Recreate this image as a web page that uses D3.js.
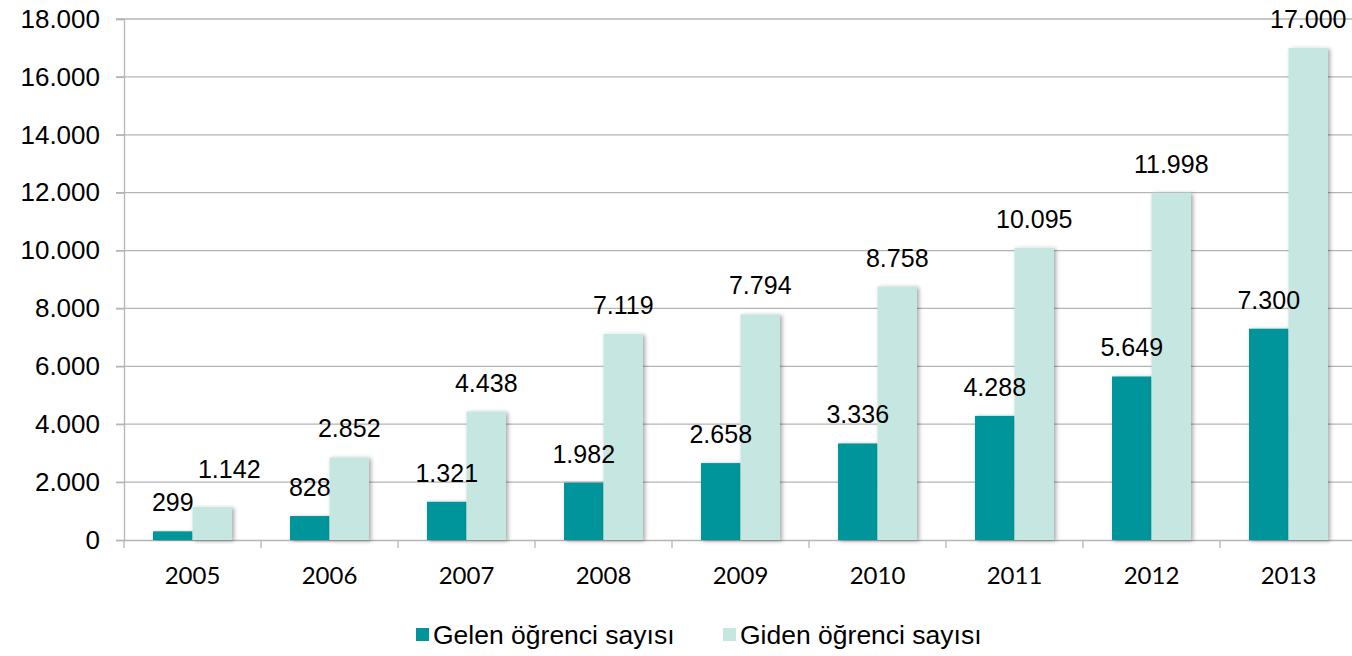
<!DOCTYPE html>
<html>
<head>
<meta charset="utf-8">
<script src="https://cdn.jsdelivr.net/npm/d3@7"></script>
<style>
  html, body { margin: 0; padding: 0; background: #fff; }
  svg { display: block; }
</style>
</head>
<body>
<div id="chart"></div>
<script>
const width = 1352;
const height = 656;

// Dati
const years = ["2005", "2006", "2007", "2008", "2009", "2010", "2011", "2012", "2013"];
const seriesNames = ["Gelen öğrenci sayısı", "Giden öğrenci sayısı"];
const gelen = [299, 828, 1321, 1982, 2658, 3336, 4288, 5649, 7300];
const giden = [1142, 2852, 4438, 7119, 7794, 8758, 10095, 11998, 17000];
const yTicks = [0, 2000, 4000, 6000, 8000, 10000, 12000, 14000, 16000, 18000];

const colors = ["#00959a", "#c6e6e1"];

// formato con punto per le migliaia
const fmt = d3.formatLocale({ thousands: ".", decimal: ",", grouping: [3], currency: ["", ""] }).format(",d");

const svg = d3.select("#chart").append("svg")
    .attr("width", width)
    .attr("height", height);

// ombra delle barre
const defs = svg.append("defs");
const shadow = defs.append("filter").attr("id", "shadow")
    .attr("x", "-20%").attr("y", "-5%").attr("width", "150%").attr("height", "115%");
shadow.append("feDropShadow")
    .attr("dx", 2).attr("dy", 1).attr("stdDeviation", 2)
    .attr("flood-color", "#000").attr("flood-opacity", 0.35);

const x0 = d3.scaleBand().domain(years).range([124, 124 + 9 * 137]).padding(0);
const x1 = d3.scaleBand().domain(seriesNames).range([0, 79]);
const y = d3.scaleLinear().domain([0, 18000]).range([540, 19]);

// griglia
svg.append("g")
    .selectAll("line")
    .data(yTicks.slice(1))
    .join("line")
    .attr("x1", 116)
    .attr("x2", width)
    .attr("y1", d => y(d))
    .attr("y2", d => y(d))
    .attr("stroke", "#b5b5b5")
    .attr("stroke-width", 1.3);

// asse Y
const yAxis = svg.append("g")
    .attr("transform", "translate(124,0)")
    .call(d3.axisLeft(y).tickValues(yTicks).tickFormat(fmt).tickSize(8).tickPadding(16));
yAxis.select(".domain").attr("stroke", "#b5b5b5").attr("stroke-width", 1.3);
yAxis.selectAll(".tick line").attr("stroke", "#b5b5b5").attr("stroke-width", 1.3);
yAxis.selectAll(".tick text")
    .attr("fill", "#000")
    .style("font-family", "'Liberation Sans', Arial, sans-serif")
    .style("font-size", "26px");

// asse X
const xAxis = svg.append("g")
    .attr("transform", "translate(0,540)")
    .call(d3.axisBottom(x0).tickSize(0).tickPadding(27));
xAxis.select(".domain").attr("stroke", "#b5b5b5").attr("stroke-width", 1.3);
xAxis.selectAll(".tick text")
    .attr("fill", "#000")
    .style("font-family", "Lato, 'Open Sans', sans-serif")
    .style("font-size", "24px");

// tacche tra le categorie
svg.append("g")
    .selectAll("line")
    .data(d3.range(years.length + 1))
    .join("line")
    .attr("x1", i => x0.range()[0] + i * x0.step())
    .attr("x2", i => x0.range()[0] + i * x0.step())
    .attr("y1", 540)
    .attr("y2", 548)
    .attr("stroke", "#b5b5b5")
    .attr("stroke-width", 1.3);

const rows = years.map((yr, i) => ({ year: yr, values: [gelen[i], giden[i]] }));

// barre
const groups = svg.append("g")
    .selectAll("g")
    .data(rows)
    .join("g")
    .attr("transform", d => `translate(${x0(d.year) + x0.bandwidth() / 2 - 39.5},0)`);

groups.selectAll("rect")
    .data(d => d.values.map((v, k) => ({ key: seriesNames[k], value: v, k: k, year: d.year })))
    .join("rect")
    .attr("x", d => x1(d.key))
    .attr("width", x1.bandwidth())
    .attr("y", d => y(d.value))
    .attr("height", d => y(0) - y(d.value))
    .attr("fill", d => colors[d.k])
    .attr("filter", "url(#shadow)");

// etichette dei valori (quella del 2005 Giden è stata spostata a mano nell'originale)
groups.selectAll("text")
    .data(d => d.values.map((v, k) => ({ key: seriesNames[k], value: v, k: k, year: d.year })))
    .join("text")
    .attr("x", d => x1(d.key) + x1.bandwidth() / 2 + (d.year === "2005" && d.k === 1 ? 17 : 0))
    .attr("y", d => y(d.value) - 20 - (d.year === "2005" && d.k === 1 ? 9 : 0))
    .attr("text-anchor", "middle")
    .style("font-family", "'Liberation Sans', Arial, sans-serif")
    .style("font-size", "25px")
    .attr("fill", "#000")
    .text(d => fmt(d.value));

// legenda
const legendX = [416, 723];
const legend = svg.append("g")
    .selectAll("g")
    .data(seriesNames)
    .join("g")
    .attr("transform", (d, i) => `translate(${legendX[i]},628)`);

legend.append("rect")
    .attr("width", 13)
    .attr("height", 13)
    .attr("fill", (d, i) => colors[i]);

legend.append("text")
    .attr("x", 17)
    .attr("y", 16)
    .style("font-family", "'Liberation Sans', Arial, sans-serif")
    .style("font-size", "26.5px")
    .attr("fill", "#000")
    .text(d => d);
</script>
</body>
</html>
